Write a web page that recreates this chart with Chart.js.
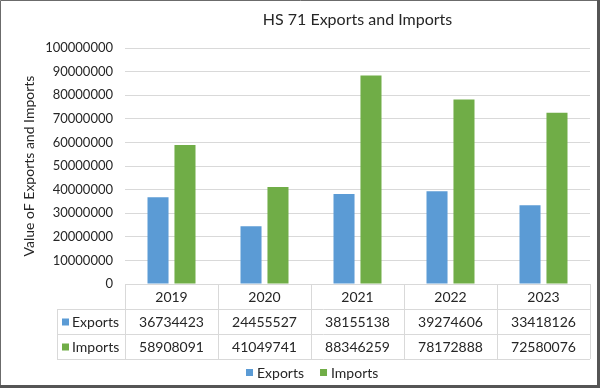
<!DOCTYPE html>
<html>
<head>
<meta charset="utf-8">
<script src="https://cdn.jsdelivr.net/npm/chart.js@4"></script>
<style>
html,body{margin:0;padding:0;background:#fff;}
#wrap{width:600px;height:388px;position:relative;}
</style>
</head>
<body>
<div id="wrap"><canvas id="c" width="600" height="388"></canvas></div>
<script>
const categories = ['2019', '2020', '2021', '2022', '2023'];
const exportsValues = [36734423, 24455527, 38155138, 39274606, 33418126];
const importsValues = [58908091, 41049741, 88346259, 78172888, 72580076];
const seriesNames = ['Exports', 'Imports'];
const chartTitle = 'HS 71 Exports and Imports';
const yAxisTitle = 'Value oF Exports and Imports';

const FONT = 'Lato, "Open Sans", sans-serif';
const TEXT = '#262626';
const GRID = '#d9d9d9';

const tablePlugin = {
  id: 'tableAndFrame',
  afterDraw(chart) {
    const ctx = chart.ctx;
    const ca = chart.chartArea;
    const xs = chart.scales.x;
    const W = chart.width, H = chart.height;
    ctx.save();
    // title
    ctx.fillStyle = TEXT;
    ctx.font = '16px ' + FONT;
    ctx.textAlign = 'center';
    ctx.textBaseline = 'middle';
    ctx.fillText(chartTitle, (ca.left + ca.right) / 2, 20);

    // table
    const rowH = 25;
    const top = ca.bottom;
    const labelLeft = 57;
    const n = categories.length;
    const colW = (ca.right - ca.left) / n;
    ctx.strokeStyle = GRID;
    ctx.lineWidth = 1;
    ctx.beginPath();
    ctx.moveTo(ca.left, top + 0.5); ctx.lineTo(ca.right, top + 0.5);
    for (let r = 1; r <= 3; r++) {
      const y = Math.round(top + r * rowH) + 0.5;
      ctx.moveTo(labelLeft, y); ctx.lineTo(ca.right, y);
    }
    ctx.moveTo(labelLeft + 0.5, top + rowH); ctx.lineTo(labelLeft + 0.5, top + 3 * rowH);
    for (let i = 0; i <= n; i++) {
      const x = Math.round(ca.left + i * colW) + 0.5;
      ctx.moveTo(x, top); ctx.lineTo(x, top + 3 * rowH);
    }
    ctx.stroke();

    ctx.font = '14px ' + FONT;
    ctx.fillStyle = TEXT;
    ctx.textAlign = 'center';
    categories.forEach((c, i) => {
      const x = xs.getPixelForValue(i);
      ctx.fillText(c, x, top + rowH / 2 + 1);
    });
    chart.data.datasets.forEach((ds, r) => {
      const y = top + (r + 1) * rowH + rowH / 2 + 1;
      ctx.fillStyle = ds.backgroundColor;
      ctx.fillRect(62, y - 4, 7, 7);
      ctx.fillStyle = TEXT;
      ctx.textAlign = 'left';
      ctx.fillText(ds.label, 72, y);
      ctx.textAlign = 'center';
      ds.data.forEach((v, i) => {
        ctx.fillText(String(v), xs.getPixelForValue(i), y);
      });
    });

    // legend
    const ly = 373;
    const items = chart.data.datasets;
    ctx.textAlign = 'left';
    ctx.font = '14px ' + FONT;
    let lx = 246;
    items.forEach((ds) => {
      ctx.fillStyle = ds.backgroundColor;
      ctx.fillRect(lx, ly - 4, 7, 7);
      ctx.fillStyle = TEXT;
      ctx.fillText(ds.label, lx + 11, ly);
      lx += 11 + ctx.measureText(ds.label).width + 16;
    });

    // frame
    ctx.strokeStyle = '#6b6b6b';
    ctx.lineWidth = 1;
    ctx.beginPath();
    ctx.moveTo(0.5, H); ctx.lineTo(0.5, 0.5); ctx.lineTo(W, 0.5);
    ctx.stroke();
    ctx.fillStyle = '#555';
    ctx.fillRect(0, H - 3, W, 3);
    ctx.fillRect(W - 3, 0, 3, H);
    ctx.restore();
  }
};

new Chart(document.getElementById('c'), {
  type: 'bar',
  data: {
    labels: categories,
    datasets: [
      { label: seriesNames[0], data: exportsValues, backgroundColor: '#5b9bd5',
        categoryPercentage: 0.58, barPercentage: 0.78 },
      { label: seriesNames[1], data: importsValues, backgroundColor: '#70ad47',
        categoryPercentage: 0.58, barPercentage: 0.78 }
    ]
  },
  options: {
    responsive: false,
    animation: false,
    devicePixelRatio: 1,
    layout: { padding: { left: 21, right: 10, top: 48, bottom: 104 } },
    plugins: {
      legend: { display: false },
      title: { display: false },
      tooltip: { enabled: false }
    },
    scales: {
      x: { display: false },
      y: {
        min: 0, max: 100000000,
        border: { display: false },
        grid: { color: GRID, drawTicks: false },
        ticks: { stepSize: 10000000, padding: 12, color: TEXT,
                 font: { family: FONT, size: 13 },
                 callback: (v) => String(v) },
        title: { display: true, text: yAxisTitle, color: TEXT,
                 font: { family: FONT, size: 14 }, padding: { top: 0, bottom: 4 } },
        afterFit(scale) { scale.width = 104; }
      }
    }
  },
  plugins: [tablePlugin]
});
</script>
</body>
</html>
